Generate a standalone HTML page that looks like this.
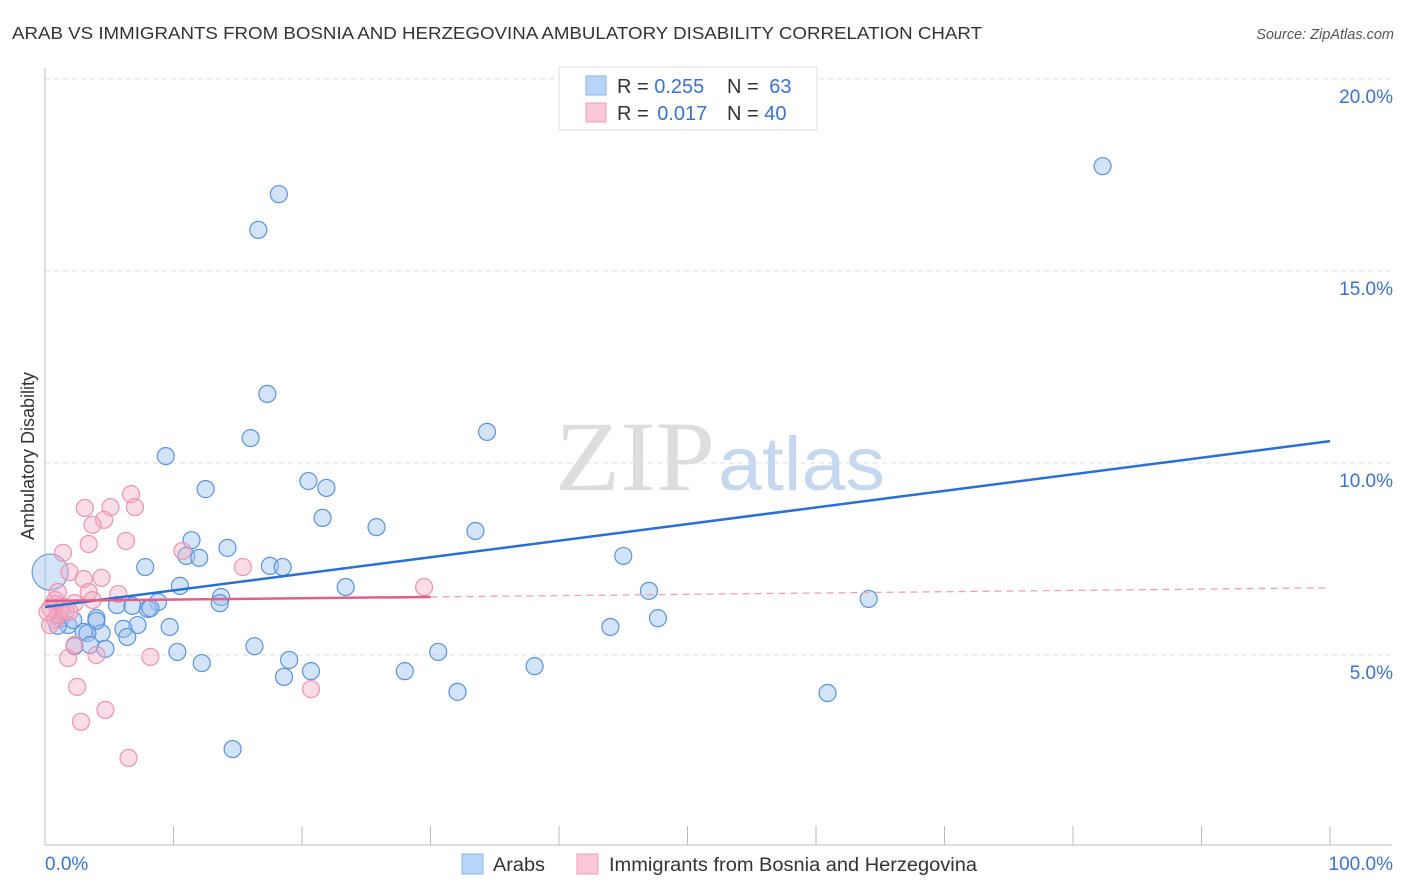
<!DOCTYPE html>
<html><head><meta charset="utf-8"><style>
body{margin:0;background:#fff;}
svg{display:block;font-family:"Liberation Sans",sans-serif;}
</style></head><body>
<svg id="chart" width="1406" height="892">
<text x="12" y="39" font-size="17.5" fill="#333" textLength="970" lengthAdjust="spacingAndGlyphs">ARAB VS IMMIGRANTS FROM BOSNIA AND HERZEGOVINA AMBULATORY DISABILITY CORRELATION CHART</text>
<text x="1394" y="39" font-size="14.5" fill="#555" font-style="italic" text-anchor="end">Source: ZipAtlas.com</text>
<text transform="translate(34,456) rotate(-90)" font-size="18" fill="#333" text-anchor="middle">Ambulatory Disability</text>
<g>
<text x="555" y="490" font-size="100" fill="#ddd" font-family="Liberation Serif,serif" textLength="160" lengthAdjust="spacingAndGlyphs">ZIP</text>
<text x="718" y="490" font-size="76" fill="#c6d8ef" textLength="167" lengthAdjust="spacingAndGlyphs">atlas</text>
</g>
<g id="grid"></g><g id="axes"></g><g id="pts"></g><g id="lines"></g>
<g>
<rect x="559" y="67" width="258" height="63" fill="#fff" stroke="#ddd"/>
<rect x="586" y="76" width="20" height="19" fill="#b8d4f6" stroke="#8ab4e8"/>
<rect x="586" y="103" width="20" height="19" fill="#f9c9d8" stroke="#ee9fb8"/>
<text x="617" y="93" font-size="20" fill="#333">R = <tspan fill="#3a72cc">0.255</tspan></text>
<text x="727" y="93" font-size="20" fill="#333">N = <tspan fill="#3a72cc" dx="5">63</tspan></text>
<text x="617" y="120" font-size="20" fill="#333">R = <tspan fill="#3a72cc" dx="3">0.017</tspan></text>
<text x="727" y="120" font-size="20" fill="#333">N = <tspan fill="#3a72cc">40</tspan></text>
</g>
<g>
<rect x="462" y="854" width="21" height="20" fill="#b8d4f6" stroke="#8ab4e8"/>
<text x="493" y="871" font-size="19" fill="#333" textLength="52" lengthAdjust="spacingAndGlyphs">Arabs</text>
<rect x="577" y="854" width="21" height="20" fill="#f9c9d8" stroke="#ee9fb8"/>
<text x="609" y="871" font-size="19" fill="#333" textLength="368" lengthAdjust="spacingAndGlyphs">Immigrants from Bosnia and Herzegovina</text>
</g>
</svg>
<script>
const yTicks=[5,10,15,20];
const xTickLabels=["0.0%","100.0%"];
const blueX=[82.3,18.2,16.6,17.3,16.0,34.4,9.4,12.5,20.5,21.9,21.6,25.8,33.5,11.4,11.0,12.0,14.2,45.0,7.8,17.5,18.5,10.5,23.4,47.0,64.1,13.7,13.6,8.8,5.6,6.8,8.0,8.2,4.0,1.2,1.8,7.2,9.7,44.0,47.7,6.1,3.0,4.4,6.4,3.3,16.3,2.3,3.5,4.7,10.3,30.6,19.0,12.2,20.7,28.0,38.1,18.6,32.1,60.9,14.6,1.0,2.2,4.0];
const blueY=[17.73,17.0,16.07,11.8,10.65,10.81,10.18,9.32,9.53,9.35,8.57,8.33,8.23,7.99,7.58,7.53,7.79,7.58,7.29,7.32,7.29,6.8,6.77,6.67,6.46,6.51,6.35,6.38,6.3,6.28,6.2,6.22,5.96,5.94,5.78,5.78,5.73,5.73,5.96,5.68,5.6,5.57,5.47,5.57,5.23,5.23,5.26,5.16,5.08,5.08,4.87,4.79,4.58,4.58,4.71,4.43,4.04,4.01,2.55,5.76,5.91,5.89];
const pinkX=[6.7,3.1,5.1,7.0,4.6,3.7,3.4,6.3,1.4,10.7,15.4,1.9,3.0,4.4,1.0,5.7,3.4,3.7,0.8,1.3,2.3,0.4,1.2,0.8,0.4,29.5,2.3,4.0,8.2,1.8,2.5,20.7,4.7,2.8,6.5,1.0,1.6,0.2,1.9,0.8];
const pinkY=[9.19,8.83,8.85,8.85,8.52,8.39,7.89,7.97,7.66,7.71,7.29,7.16,6.98,7.01,6.64,6.59,6.64,6.43,6.33,6.28,6.35,6.22,6.17,5.91,5.78,6.77,5.26,5.0,4.95,4.92,4.17,4.11,3.57,3.26,2.32,6.04,6.12,6.12,6.12,6.43];
const bigX=[0.4], bigY=[7.16];
const blueTrend=[6.25,10.57];
const pinkTrend=[6.41,6.75];
const pinkSolidEnd=30;
const NS="http://www.w3.org/2000/svg";
const sx=v=>45+v*12.85, sy=v=>847-v*38.4;
function mk(t,a,p){const e=document.createElementNS(NS,t);for(const k in a)e.setAttribute(k,a[k]);p.appendChild(e);return e;}
const grid=document.getElementById('grid'),axes=document.getElementById('axes'),pts=document.getElementById('pts'),lines=document.getElementById('lines');
yTicks.forEach(t=>{
 const l=mk('line',{x1:45,x2:1392,y1:sy(t),y2:sy(t),stroke:'#ddd','stroke-dasharray':'5,4'},grid);
 
 
 const tx=mk('text',{x:1393,y:sy(t)+24,'font-size':19,fill:'#3a72cc','text-anchor':'end'},grid);
 tx.textContent=t.toFixed(1)+'%';
 
 
});
const ax=mk('path',{d:'M45,68V845H1392',stroke:'#bbb',fill:'none'},axes);


for(let i=1;i<=10;i++){const t=mk('line',{x1:sx(i*10),x2:sx(i*10),y1:826,y2:845,stroke:'#bbb'},axes);
 
 }
[[0,'start'],[100,'end']].forEach((p,i)=>{const t=mk('text',{x:i?1393:45,y:870,'font-size':19,fill:'#3a72cc','text-anchor':p[1]},axes);t.textContent=xTickLabels[i];
 
 });
function dots(X,Y,fill,stroke,name,r){X.forEach((x,i)=>{const c=mk('circle',{cx:sx(x),cy:sy(Y[i]),r:r,fill:fill,stroke:stroke,'stroke-width':1.2},pts);
 
 });}
dots(bigX,bigY,'rgba(160,196,240,0.45)','#6a9de0','arab-point-large',18);
dots(blueX,blueY,'rgba(160,196,240,0.45)','#5a92dc','arab-point',8.5);
dots(pinkX,pinkY,'rgba(244,170,195,0.4)','#ec93b0','bosnia-point',8.5);
const bl=mk('line',{x1:sx(0),y1:sy(blueTrend[0]),x2:sx(100),y2:sy(blueTrend[1]),stroke:'#2a6fd6','stroke-width':2.5},lines);


const pe=pinkTrend[0]+(pinkTrend[1]-pinkTrend[0])*pinkSolidEnd/100;
const pl=mk('line',{x1:sx(0),y1:sy(pinkTrend[0]),x2:sx(pinkSolidEnd),y2:sy(pe),stroke:'#e0608a','stroke-width':2.5},lines);


const pd=mk('line',{x1:sx(pinkSolidEnd),y1:sy(pe),x2:sx(100),y2:sy(pinkTrend[1]),stroke:'#eca0b8','stroke-width':1.3,'stroke-dasharray':'7,5'},lines);


</script>
</body></html>
